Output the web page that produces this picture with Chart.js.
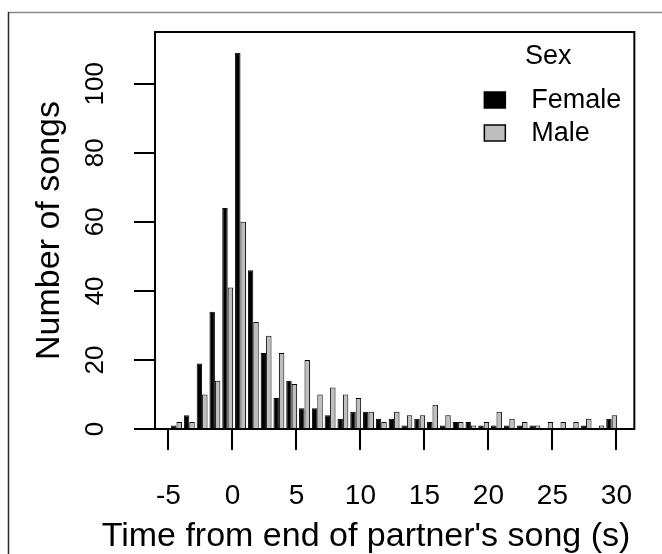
<!DOCTYPE html>
<html>
<head>
<meta charset="utf-8">
<script src="https://cdn.jsdelivr.net/npm/chart.js@4/dist/chart.umd.min.js"></script>
<style>
  html, body { margin: 0; padding: 0; background: #fff; }
  #songChart { display: block; }
</style>
</head>
<body>
<canvas id="songChart" width="662" height="554"></canvas>
<script>
// bar centres of the 1 s bins (the bars sit a little right of each bin start)
const binCenters = [-4.37, -3.37, -2.37, -1.37, -0.37, 0.63, 1.63, 2.63, 3.63, 4.63,
  5.63, 6.63, 7.63, 8.63, 9.63, 10.63, 11.63, 12.63, 13.63, 14.63,
  15.63, 16.63, 17.63, 18.63, 19.63, 20.63, 21.63, 22.63, 23.63, 24.63,
  25.63, 26.63, 27.63, 28.63, 29.63];

const femaleSongs = [1, 4, 19, 34, 64, 109, 46, 22, 9, 14,
  6, 6, 4, 3, 5, 5, 3, 3, 1, 3,
  2, 1, 2, 2, 1, 1, 1, 1, 1, 0,
  0, 0, 1, 0, 3];

const maleSongs = [2, 2, 10, 14, 41, 60, 31, 27, 22, 13,
  20, 10, 12, 10, 9, 5, 2, 5, 4, 4,
  7, 4, 2, 1, 2, 5, 3, 2, 1, 2,
  2, 2, 3, 1, 4];

const xTicks = [-5, 0, 5, 10, 15, 20, 25, 30];
const yTicks = [0, 20, 40, 60, 80, 100];

const xTitle = "Time from end of partner's song (s)";

const FONT = "'Liberation Sans', Arial, sans-serif";

function toPoints(values) {
  return values.map((v, i) => ({ x: binCenters[i], y: v }));
}

// box round the plot, page frame, x title and the legend, drawn like base R does
const framePlugin = {
  id: "framePlugin",
  beforeDraw(chart) {
    const ctx = chart.ctx;
    ctx.save();
    ctx.fillStyle = "#fff";
    ctx.fillRect(0, 0, chart.width, chart.height);
    ctx.lineWidth = 1.5;
    ctx.strokeStyle = "#8a8a8a";
    ctx.beginPath();
    ctx.moveTo(8, 12.5);
    ctx.lineTo(chart.width, 12.5);
    ctx.stroke();
    ctx.strokeStyle = "#2a2a2a";
    ctx.beginPath();
    ctx.moveTo(8.5, 12);
    ctx.lineTo(8.5, chart.height);
    ctx.stroke();
    ctx.restore();
  },
  afterDraw(chart) {
    const { ctx, chartArea } = chart;
    ctx.save();
    ctx.lineWidth = 2;
    ctx.strokeStyle = "#000";
    ctx.strokeRect(chartArea.left, chartArea.top,
      chartArea.right - chartArea.left, chartArea.bottom - chartArea.top);

    // x title is wider than the plot box, so it is drawn here
    ctx.fillStyle = "#000";
    ctx.font = "34px " + FONT;
    ctx.textAlign = "center";
    ctx.textBaseline = "middle";
    ctx.fillText(xTitle, 366, 537);

    // legend
    const boxX = chartArea.right - 150;
    const textX = chartArea.right - 103;
    ctx.font = "27px " + FONT;
    ctx.fillText("Sex", chartArea.right - 86, chartArea.top + 25);
    ctx.textAlign = "left";
    const rows = [chartArea.top + 68, chartArea.top + 101];
    chart.data.datasets.forEach((ds, i) => {
      const y = rows[i];
      ctx.fillStyle = ds.backgroundColor;
      ctx.fillRect(boxX, y - 8, 21, 16);
      ctx.lineWidth = 1.5;
      ctx.strokeStyle = "#000";
      ctx.strokeRect(boxX, y - 8, 21, 16);
      ctx.fillStyle = "#000";
      ctx.fillText(ds.label, textX, y + 1);
    });
    ctx.restore();
  }
};

const ctx = document.getElementById("songChart").getContext("2d");

new Chart(ctx, {
  type: "bar",
  data: {
    datasets: [{
      label: "Female",
      data: toPoints(femaleSongs),
      backgroundColor: "#000000",
      borderColor: "#000000",
      borderWidth: 1
    }, {
      label: "Male",
      data: toPoints(maleSongs),
      backgroundColor: "#bebebe",
      borderColor: "#000000",
      borderWidth: 1
    }]
  },
  options: {
    responsive: false,
    animation: false,
    devicePixelRatio: 1,
    layout: { padding: { top: 32, right: 27, left: 0, bottom: 0 } },
    categoryPercentage: 0.85,
    barPercentage: 1.0,
    plugins: {
      legend: { display: false },
      tooltip: { enabled: false }
    },
    scales: {
      x: {
        type: "linear",
        min: -6.05,
        max: 31.4,
        offset: false,
        afterBuildTicks: (scale) => { scale.ticks = xTicks.map(v => ({ value: v })); },
        afterFit: (scale) => { scale.height = 125; },
        grid: {
          offset: false,
          drawOnChartArea: false,
          tickLength: 21,
          lineWidth: 2,
          color: "#000"
        },
        border: { display: true, width: 2, color: "#000" },
        ticks: {
          color: "#000",
          font: { family: FONT, size: 28 },
          padding: 29,
          maxRotation: 0,
          autoSkip: false
        },
        title: { display: false }
      },
      y: {
        min: 0,
        max: 115,
        afterBuildTicks: (scale) => { scale.ticks = yTicks.map(v => ({ value: v })); },
        afterFit: (scale) => { scale.width = 155; },
        grid: {
          drawOnChartArea: false,
          tickLength: 21,
          lineWidth: 2,
          color: "#000"
        },
        border: { display: true, width: 2, color: "#000" },
        ticks: {
          color: "#000",
          font: { family: FONT, size: 26 },
          minRotation: 90,
          maxRotation: 90,
          crossAlign: "center",
          padding: 16
        },
        title: {
          display: true,
          text: "Number of songs",
          color: "#000",
          font: { family: FONT, size: 34, lineHeight: 1 },
          padding: { top: 33, bottom: 0 }
        }
      }
    }
  },
  plugins: [framePlugin]
});
</script>
</body>
</html>
